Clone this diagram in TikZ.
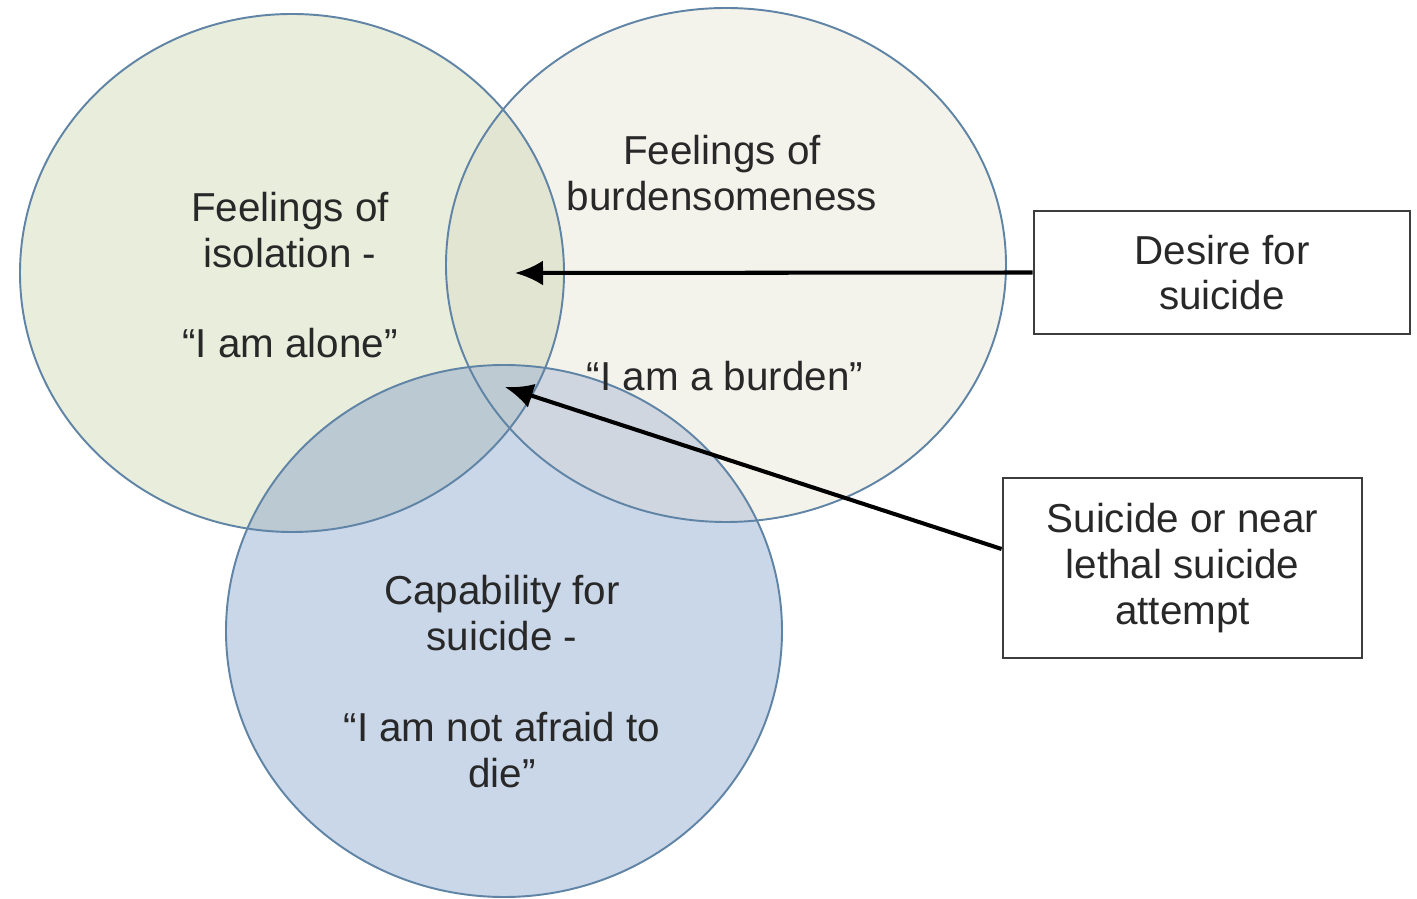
\documentclass[tikz,border=0pt]{standalone}
\usepackage{fontspec}
\setmainfont{Liberation Sans}
\usepackage{tikz}
\usetikzlibrary{positioning, arrows.meta}
\definecolor{isofill}{RGB}{233,237,220}
\definecolor{burdfill}{RGB}{244,243,235}
\definecolor{capfill}{RGB}{201,215,233}
\definecolor{isoburd}{RGB}{226,229,210}
\definecolor{isocap}{RGB}{186,201,210}
\definecolor{burdcap}{RGB}{207,214,223}
\definecolor{allthree}{RGB}{190,202,210}
\definecolor{ringblue}{RGB}{96,132,165}
\definecolor{inkgray}{RGB}{40,40,40}
\tikzset{
  ring/.style    = {draw=ringblue, line width=1.1pt},
  label/.style   = {align=center, text=inkgray, inner sep=0pt, font=\fontsize{23}{26}\selectfont},
  factbox/.style = {rectangle, draw=inkgray!90, line width=1.6pt, fill=white, align=center,
                    text=inkgray, font=\fontsize{23}{26}\selectfont},
  conn/.style    = {-{Latex[length=5.6mm, width=5mm]}, line width=2.3pt, draw=black},
}
\newcommand{\isopath}{(5.84,12.52) ellipse [x radius=5.44cm, y radius=5.18cm]}
\newcommand{\burdpath}{(14.52,12.68) ellipse [x radius=5.60cm, y radius=5.14cm]}
\newcommand{\cappath}{(10.08,5.36) ellipse [x radius=5.56cm, y radius=5.32cm]}
\begin{document}
\begin{tikzpicture}[x=1cm, y=1cm]
    \useasboundingbox (0,0) rectangle (28.34,17.98);

    % circle fills
    \fill[isofill] \isopath;
    \fill[burdfill] \burdpath;
    \fill[capfill] \cappath;

    % overlaps
    \begin{scope}
      \clip \isopath;
      \fill[isoburd] \burdpath;
      \fill[isocap] \cappath;
    \end{scope}
    \begin{scope}
      \clip \burdpath;
      \fill[burdcap] \cappath;
      \clip \cappath;
      \fill[allthree] \isopath;
    \end{scope}

    % outlines
    \draw[ring] \isopath;
    \draw[ring] \burdpath;
    \draw[ring] \cappath;

    % circle labels
    \node[label] (isoTitle) at (5.80,13.38) {Feelings of\\isolation -};
    \node[label] (isoQuote) at (5.80,11.12) {“I am alone”};
    \node[label] (burdTitle) at (14.44,14.52) {Feelings of\\burdensomeness};
    \node[label] (burdQuote) at (14.50,10.46) {“I am a burden”};
    \node[label] (capTitle) at (10.04,5.72) {Capability for\\suicide -};
    \node[label] (capQuote) at (10.04,2.98) {“I am not afraid to\\die”};

    % outcome boxes
    \node[factbox, minimum width=7.52cm, minimum height=2.46cm] (desire) at (24.44,12.53) {Desire for\\suicide};
    \node[factbox, minimum width=7.18cm, minimum height=3.60cm] (attempt) at (23.65,6.62) {Suicide or near\\lethal suicide\\attempt};

    % arrow targets
    \coordinate (desireTip) at (10.30,12.52);
    \coordinate (attemptTip) at (10.10,10.24);

    \draw[conn] (desire.west) -- (desireTip);
    \draw[conn] (attempt.174) -- (attemptTip);
  \end{tikzpicture}
\end{document}
